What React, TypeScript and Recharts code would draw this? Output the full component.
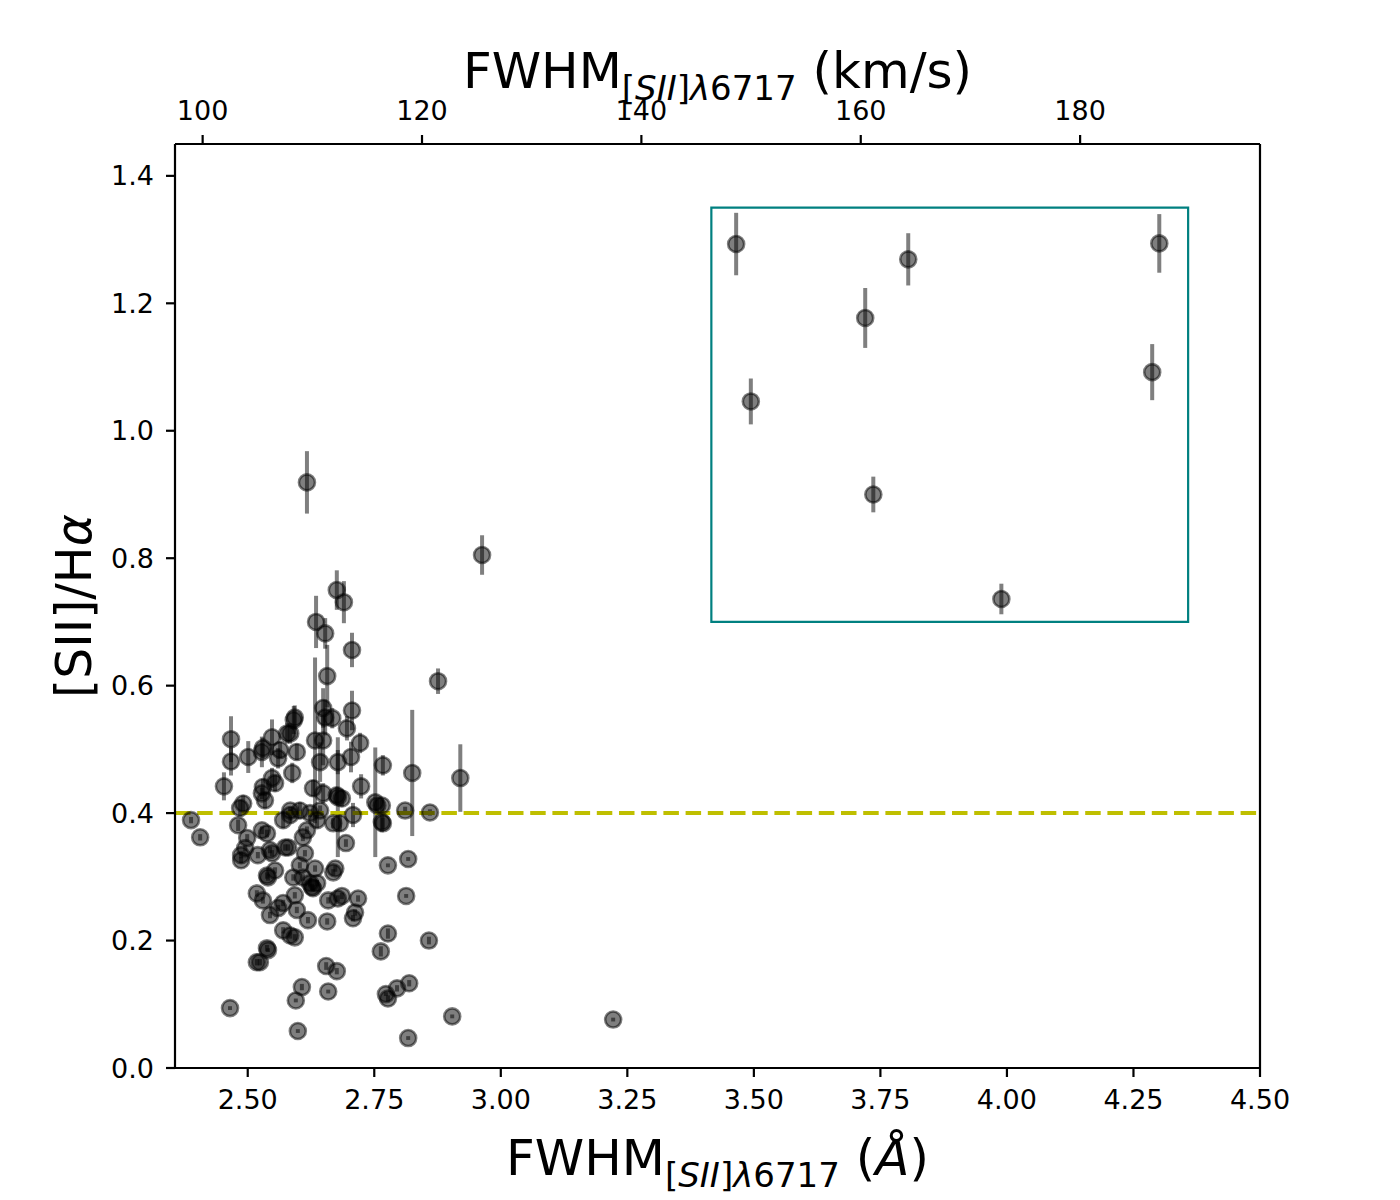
import { ScatterChart, Scatter, XAxis, YAxis, ErrorBar, ReferenceLine, ReferenceArea } from 'recharts'

// FWHM of [SII]6717 in Angstrom, [SII]/Ha ratio and its 1-sigma error
const fwhm = [
  3.465, 3.494, 3.72, 3.736, 3.805, 3.989, 4.287, 4.301,
  2.617, 2.963, 3.222, 2.92, 2.876, 2.86, 2.904, 2.858, 2.817, 2.819, 2.817, 2.813,
  2.825, 2.811, 2.388, 2.406, 2.465, 2.599, 2.595, 2.607, 2.655, 2.659, 2.676, 2.773,
  2.777, 2.795, 2.763, 2.777, 2.777, 2.518, 2.524, 2.54,
  2.676, 2.69, 2.635, 2.653, 2.706, 2.657, 2.633, 2.706, 2.649, 2.667, 2.696, 2.722,
  2.649, 2.643, 2.678, 2.704, 2.591, 2.584, 2.548, 2.467, 2.467, 2.453, 2.501, 2.528,
  2.767, 2.724, 2.678, 2.752, 2.708, 2.765, 2.694,
  2.53, 2.564, 2.578, 2.593, 2.597, 2.588, 2.554, 2.53, 2.528, 2.534, 2.548, 2.56, 2.653,
  2.629, 2.649, 2.676, 2.686, 2.765, 2.767,
  2.485, 2.491, 2.481, 2.584, 2.603, 2.57, 2.637, 2.682,
  2.487, 2.487, 2.495, 2.52, 2.54, 2.554, 2.548, 2.574, 2.59, 2.609, 2.627, 2.637, 2.633,
  2.673, 2.669, 2.499, 2.528, 2.538, 2.544, 2.538, 2.58, 2.584, 2.623, 2.617, 2.609,
  2.613, 2.603, 2.623, 2.629, 2.643, 2.669, 2.756,
  2.518, 2.53, 2.544, 2.56, 2.57, 2.57, 2.584, 2.593, 2.597, 2.593, 2.619, 2.657, 2.659,
  2.678, 2.686, 2.718, 2.708, 2.712, 2.538,
]

const ratio = [
  1.293, 1.046, 1.177, 0.9, 1.269, 0.736, 1.092, 1.294,
  0.919, 0.805, 0.076, 0.455, 0.607, 0.401, 0.081, 0.2, 0.047, 0.133, 0.328, 0.27,
  0.463, 0.404, 0.389, 0.362, 0.094, 0.058, 0.106, 0.127, 0.16, 0.12, 0.152, 0.116,
  0.109, 0.125, 0.183, 0.211, 0.318, 0.166, 0.166, 0.185,
  0.75, 0.731, 0.7, 0.682, 0.656, 0.615, 0.514, 0.561, 0.565, 0.549, 0.533, 0.51,
  0.514, 0.48, 0.48, 0.488, 0.546, 0.525, 0.519, 0.516, 0.481, 0.442, 0.488, 0.496,
  0.475, 0.442, 0.425, 0.417, 0.397, 0.386, 0.353,
  0.502, 0.499, 0.525, 0.55, 0.496, 0.463, 0.447, 0.441, 0.431, 0.42, 0.455, 0.486, 0.55,
  0.439, 0.431, 0.428, 0.423, 0.412, 0.384,
  0.408, 0.415, 0.381, 0.397, 0.404, 0.389, 0.389, 0.384,
  0.326, 0.334, 0.345, 0.334, 0.299, 0.31, 0.337, 0.346, 0.299, 0.299, 0.284, 0.29, 0.313,
  0.313, 0.307, 0.361, 0.373, 0.368, 0.342, 0.302, 0.346, 0.404, 0.4, 0.373, 0.362,
  0.337, 0.318, 0.29, 0.282, 0.404, 0.384, 0.412,
  0.274, 0.263, 0.24, 0.251, 0.259, 0.216, 0.208, 0.205, 0.248, 0.271, 0.232, 0.23, 0.263,
  0.266, 0.27, 0.266, 0.235, 0.244, 0.188,
]

const ratioErr = [
  0.049, 0.036, 0.047, 0.028, 0.041, 0.024, 0.044, 0.046,
  0.049, 0.031, 0.003, 0.053, 0.02, 0.005, 0.003, 0.006, 0.003, 0.005, 0.003, 0.003,
  0.099, 0.006, 0.005, 0.005, 0.003, 0.003, 0.003, 0.005, 0.006, 0.003, 0.005, 0.003,
  0.005, 0.005, 0.008, 0.008, 0.003, 0.005, 0.005, 0.003,
  0.031, 0.033, 0.041, 0.024, 0.027, 0.049, 0.13, 0.031, 0.031, 0.016, 0.019, 0.016,
  0.039, 0.031, 0.019, 0.024, 0.022, 0.016, 0.028, 0.036, 0.022, 0.022, 0.025, 0.024,
  0.016, 0.019, 0.094, 0.086, 0.019, 0.016, 0.006,
  0.016, 0.013, 0.016, 0.019, 0.013, 0.016, 0.013, 0.013, 0.009, 0.013, 0.016, 0.016, 0.028,
  0.013, 0.016, 0.013, 0.013, 0.009, 0.009,
  0.013, 0.013, 0.009, 0.009, 0.013, 0.013, 0.013, 0.013,
  0.005, 0.005, 0.005, 0.005, 0.005, 0.005, 0.005, 0.005, 0.005, 0.005, 0.005, 0.005, 0.005,
  0.005, 0.005, 0.006, 0.006, 0.006, 0.005, 0.005, 0.005, 0.006, 0.006, 0.006, 0.006,
  0.005, 0.005, 0.005, 0.005, 0.008, 0.008, 0.009,
  0.005, 0.005, 0.005, 0.005, 0.005, 0.005, 0.005, 0.005, 0.005, 0.005, 0.005, 0.005, 0.005,
  0.005, 0.005, 0.005, 0.005, 0.005, 0.005,
]

const xTicks = [2.5, 2.75, 3.0, 3.25, 3.5, 3.75, 4.0, 4.25, 4.5]
const yTicks = [0, 0.2, 0.4, 0.6, 0.8, 1.0, 1.2, 1.4]
const kmsTicks = [100, 120, 140, 160, 180]
const kmsRange = [97.48, 196.4]

const points = fwhm.map((x, i) => ({ x, y: ratio[i], err: ratioErr[i] }))
// invisible anchors so the top (km/s) axis gets its ticks
const kmsAnchors = kmsRange.map((k) => ({ k, y: 0 }))

const FONT = 'DejaVu Sans'
const tickStyle = { fontSize: 27, fill: '#000', fontFamily: FONT }
const axisStroke = { stroke: '#000', strokeWidth: 2.2 }

function Dot(props: any) {
  const { cx, cy } = props
  if (cx == null || cy == null) return null
  return <circle cx={cx} cy={cy} r={8} fill="rgba(0,0,0,0.5)" stroke="rgba(0,0,0,0.5)" strokeWidth={2.6} />
}

function Subscript() {
  return (
    <tspan dy={12} fontSize={34}>
      [<tspan fontStyle="italic">SII</tspan>]<tspan fontStyle="italic">λ</tspan>6717
    </tspan>
  )
}

export default function App() {
  return (
    <div style={{ position: 'absolute', left: 0, top: 0, width: 1400, height: 1200, background: '#fff' }}>
      <ScatterChart width={1400} height={1200} margin={{ top: 44, right: 140, bottom: 32, left: 75 }}>
        <XAxis
          type="number"
          dataKey="x"
          domain={[2.3563, 4.5]}
          ticks={xTicks}
          allowDataOverflow
          height={100}
          tick={tickStyle}
          tickSize={9}
          tickMargin={13}
          tickLine={axisStroke}
          axisLine={axisStroke}
          tickFormatter={(v) => v.toFixed(2)}
          label={{
            content: ({ viewBox }: any) => (
              <text x={viewBox.x + viewBox.width / 2} y={viewBox.y + 107} textAnchor="middle" fontSize={50} fontFamily={FONT} fill="#000">
                FWHM<Subscript />
                <tspan dy={-12}> (<tspan fontStyle="italic">Å</tspan>)</tspan>
              </text>
            ),
          }}
        />
        <XAxis
          xAxisId="top"
          orientation="top"
          type="number"
          dataKey="k"
          domain={kmsRange}
          ticks={kmsTicks}
          allowDataOverflow
          height={100}
          tick={tickStyle}
          tickSize={9}
          tickMargin={15}
          tickLine={axisStroke}
          axisLine={axisStroke}
          label={{
            content: ({ viewBox }: any) => (
              <text x={viewBox.x + viewBox.width / 2} y={88} textAnchor="middle" fontSize={50} fontFamily={FONT} fill="#000">
                FWHM<Subscript />
                <tspan dy={-12}> (km/s)</tspan>
              </text>
            ),
          }}
        />
        <YAxis
          type="number"
          dataKey="y"
          domain={[0, 1.45]}
          ticks={yTicks}
          allowDataOverflow
          width={100}
          tick={tickStyle}
          tickSize={9}
          tickMargin={12}
          tickLine={axisStroke}
          axisLine={axisStroke}
          tickFormatter={(v) => v.toFixed(1)}
          label={{
            content: () => (
              <text x={91} y={606} transform="rotate(-90, 91, 606)" textAnchor="middle" fontSize={49} fontFamily={FONT} fill="#000">
                [SII]/H<tspan fontStyle="italic">α</tspan>
              </text>
            ),
          }}
        />
        <Scatter xAxisId="top" data={kmsAnchors} shape={() => <g />} isAnimationActive={false} />
        <ReferenceArea x1={3.416} x2={4.358} y1={0.7} y2={1.35} fill="none" stroke="#008080" strokeWidth={2.2} />
        <Scatter data={points} shape={<Dot />} isAnimationActive={false}>
          <ErrorBar dataKey="err" direction="y" width={0} stroke="rgba(0,0,0,0.5)" strokeWidth={4} />
        </Scatter>
        <ReferenceLine y={0.4} stroke="#bfbf00" strokeWidth={4} strokeDasharray="15.5 6.7" />
        <ReferenceLine x={4.5} stroke="#000" strokeWidth={2.2} />
      </ScatterChart>
    </div>
  )
}
